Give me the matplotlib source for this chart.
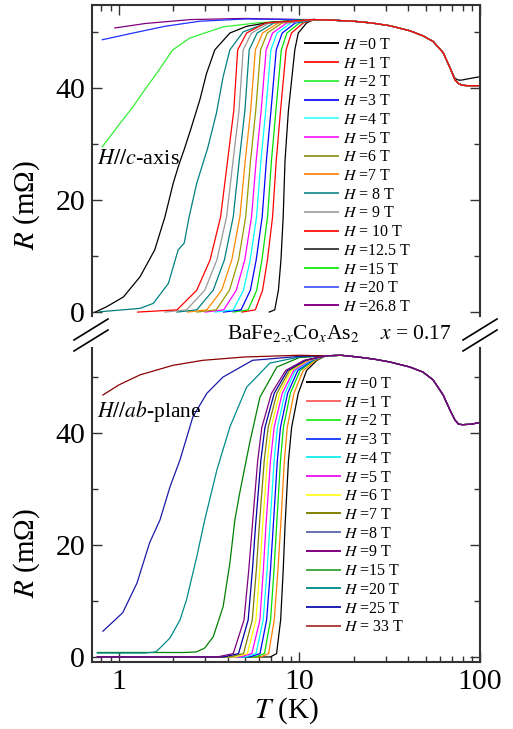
import numpy as np
import matplotlib
matplotlib.use("Agg")
import matplotlib.pyplot as plt
from matplotlib.lines import Line2D
from matplotlib.ticker import FixedLocator, FixedFormatter, LogLocator, NullFormatter, MultipleLocator

plt.rcParams['font.family'] = ['Liberation Serif', 'DejaVu Serif']
plt.rcParams['mathtext.fontset'] = 'stix'

# ---------------------------------------------------------------------------
# data (T in K, R in mOhm)
# ---------------------------------------------------------------------------

# H // c-axis : transition curves, T where each curve crosses these R values
top_R_levels = [0, 0.4, 3.9, 9.3, 17, 27, 36, 46.8, 49.8, 51.6]
top_T_0T = [6.8, 7.3, 7.65, 7.9, 8.13, 8.32, 8.69, 9.43, 9.85, 10.96]
top_T_1T = [4.8, 5.7, 6.25, 6.65, 7.10, 7.44, 7.86, 8.44, 9.03, 10.5]
top_T_2T = [4.3, 5.2, 5.8, 6.20, 6.66, 7.00, 7.41, 7.94, 8.53, 10.0]
top_T_3T = [3.8, 4.75, 5.35, 5.76, 6.22, 6.56, 6.96, 7.44, 8.03, 9.49]
top_T_4T = [3.4, 4.3, 4.9, 5.34, 5.79, 6.12, 6.51, 6.95, 7.52, 8.96]
top_T_5T = [3.0, 3.81, 4.47, 4.98, 5.43, 5.76, 6.14, 6.54, 7.10, 8.52]
top_T_6T = [2.7, 3.46, 4.10, 4.60, 5.04, 5.36, 5.73, 6.09, 6.64, 8.01]
top_T_7T = [2.4, 3.07, 3.71, 4.22, 4.68, 5.01, 5.37, 5.70, 6.25, 7.65]
top_T_8T = [2.1, 2.70, 3.33, 3.84, 4.30, 4.64, 4.99, 5.27, 5.83, 7.23]
top_T_9T = [1.8, 2.37, 2.99, 3.49, 3.95, 4.29, 4.63, 4.88, 5.43, 6.82]
top_T_10T = [1.27, 2.10, 2.70, 3.20, 3.66, 4.00, 4.33, 4.55, 5.10, 6.50]

top_T_11T = [0.78, 1.31, 1.55, 1.88, 2.13, 2.30, 2.45, 2.70, 3.10, 3.47, 3.78, 4.12, 4.88, 6.5, 10]
top_R_11T = [0.05, 0.66, 1.55, 5.1, 11.1, 12.3, 17, 23, 29.2, 35.5, 42, 46.8, 50, 51.5, 52.1]
top_T_12T = [0.74, 0.855, 1.06, 1.31, 1.58, 1.80, 2.0, 2.15, 2.3, 2.5, 2.81, 3.06, 3.4, 4.12, 5.1, 6.86, 10]
top_R_12T = [0, 0.95, 2.7, 6.3, 11.1, 17, 23, 26.3, 29, 32.6, 37.9, 42.6, 46.8, 49.8, 51, 51.7, 52.1]
top_T_15T = [0.81, 1.0, 1.195, 1.4, 1.62, 1.99, 2.47, 3.77, 5.8, 10]
top_R_15T = [29.5, 33.4, 36.6, 39.8, 42.6, 46.8, 48.9, 50.9, 51.6, 52.1]
top_T_20T = [0.81, 1.2, 1.8, 2.8, 5.0, 10]
top_R_20T = [48.6, 49.8, 51.0, 51.9, 52.3, 52.2]
top_T_27T = [0.95, 1.4, 2.5, 5.0, 10]
top_R_27T = [50.7, 51.5, 52.2, 52.4, 52.2]

top_tail_T = [12, 15, 20, 25, 31.7, 40.9, 48.3, 55, 62.5, 68.2, 72.8, 76, 79.2, 85, 100]
top_tail_R = [52.2, 52.1, 51.9, 51.6, 51.1, 50.2, 49.3, 48.3, 46.3, 43.6, 41.4, 40.8, 40.5, 40.4, 40.4]
top_tail_R_0T = [52.2, 52.1, 51.9, 51.6, 51.1, 50.2, 49.3, 48.3, 46.3, 43.6, 41.7, 41.4, 41.4, 41.6, 42.0]

top_labels = ['$H$ =0 T', '$H$ =1 T', '$H$ =2 T', '$H$ =3 T', '$H$ =4 T', '$H$ =5 T',
              '$H$ =6 T', '$H$ =7 T', '$H$ = 8 T', '$H$ = 9 T', '$H$ = 10 T',
              '$H$ =12.5 T', '$H$ =15 T', '$H$ =20 T', '$H$ =26.8 T']
top_legend_colors = ['#000000', '#ff2020', '#44ee44', '#2020ff', '#55ffff', '#ff33ff',
                     '#999933', '#ff9020', '#339999', '#aaaaaa', '#ff2020',
                     '#444444', '#22ee22', '#5566ff', '#880088']
top_curve_colors = ['#000000', '#ff0000', '#00e000', '#0000ff', '#00ffff', '#ff00ff',
                    '#999900', '#ff8800', '#008080', '#999999', '#ff0000']

# H // ab-plane
bot_R_levels = [0, 0, 0.6, 6.6, 15.5, 23.3, 35, 41, 47.1, 51.2, 53.0]
bot_T_0T = [0.76, 6.9, 7.47, 7.87, 8.13, 8.32, 8.69, 9.05, 9.85, 10.96, 12.5]
bot_T_1T = [0.76, 6.1, 6.75, 7.25, 7.60, 7.87, 8.25, 8.56, 9.32, 10.5, 12.3]
bot_T_2T = [0.76, 5.7, 6.4, 6.92, 7.23, 7.47, 7.85, 8.15, 8.90, 10.1, 12.0]
bot_T_3T = [0.76, 5.3, 6.05, 6.58, 6.91, 7.16, 7.54, 7.85, 8.60, 9.8, 11.8]
bot_T_4T = [0.76, 5.0, 5.75, 6.30, 6.62, 6.86, 7.24, 7.55, 8.31, 9.5, 11.6]
bot_T_5T = [0.76, 4.7, 5.45, 6.04, 6.31, 6.52, 6.91, 7.24, 8.03, 9.3, 11.4]
bot_T_6T = [0.76, 4.4, 5.15, 5.74, 6.03, 6.25, 6.64, 6.97, 7.77, 9.0, 11.2]
bot_T_7T = [0.76, 4.1, 4.9, 5.48, 5.77, 5.99, 6.38, 6.71, 7.50, 8.8, 11.0]
bot_T_8T = [0.76, 3.8, 4.6, 5.20, 5.49, 5.71, 6.11, 6.44, 7.25, 8.6, 10.8]
bot_T_9T = [0.76, 3.5, 4.3, 4.93, 5.24, 5.48, 5.87, 6.19, 7.00, 8.4, 10.6]

bot_T_15T = [0.76, 2.3, 2.69, 2.99, 3.33, 3.78, 4.12, 4.39, 4.67, 5.3, 6.04, 7.5, 10]
bot_R_15T = [0.8, 0.8, 0.9, 1.6, 3.6, 9.0, 16.8, 24.5, 29.3, 38.2, 46.4, 51.8, 53.5]
bot_T_20T = [0.76, 1.4, 1.6, 1.69, 1.92, 2.18, 2.37, 2.70, 2.99, 3.49, 4.12, 5.1, 6.86, 10]
bot_R_20T = [0.7, 0.7, 0.9, 1.6, 3.4, 6.6, 10.2, 17.9, 24.5, 33.4, 41.1, 48.2, 52.5, 53.6]
bot_T_25T = [0.816, 1.05, 1.26, 1.48, 1.69, 1.92, 2.18, 2.57, 3.07, 3.77, 5.5, 10]
bot_R_25T = [4.6, 7.9, 13.2, 20.4, 24.5, 30.4, 35.2, 42.9, 47.1, 50.0, 53.0, 53.7]
bot_T_33T = [0.816, 1.0, 1.31, 1.99, 2.92, 5.0, 10]
bot_R_33T = [46.8, 48.6, 50.4, 52.1, 53.0, 53.6, 53.9]

bot_tail_T = [14, 17, 21, 26, 31.7, 40.9, 48.3, 55, 62.5, 68.2, 72.8, 76, 80, 90, 100]
bot_tail_R = [53.8, 53.9, 53.6, 53.2, 52.7, 51.8, 50.9, 49.5, 46.8, 44.1, 42.3, 41.6, 41.5, 41.6, 41.9]

bot_labels = ['$H$ =0 T', '$H$ =1 T', '$H$ =2 T', '$H$ =3 T', '$H$ =4 T', '$H$ =5 T',
              '$H$ =6 T', '$H$ =7 T', '$H$ =8 T', '$H$ =9 T', '$H$ =15 T', '$H$ =20 T',
              '$H$ =25 T', '$H$ = 33 T']
bot_legend_colors = ['#000000', '#ff6666', '#33ee33', '#2244ff', '#22eeee', '#ee22ee',
                     '#ffff33', '#808000', '#6670b0', '#800080', '#44aa44', '#109090',
                     '#2020b0', '#b04040']
bot_curve_colors = ['#000000', '#ff8000', '#00dd00', '#0000ff', '#00ffff', '#ff00ff',
                    '#ffff00', '#808000', '#0000a0', '#800080', '#008000', '#008b8b',
                    '#1a1aaa', '#8b0000']

# ---------------------------------------------------------------------------

W, H = 513, 729
fig = plt.figure(figsize=(W / 100, H / 100), dpi=100)
ax1 = fig.add_axes([92 / W, 1 - 316 / H, 388 / W, 311 / H])
ax2 = fig.add_axes([92 / W, 1 - 662 / H, 388 / W, 314 / H])

LW = 0.9


def draw(ax, T, R, tail_T, tail_R, color, tmax=1000):
    T = np.asarray(T, float)
    R = np.asarray(R, float)
    tT = np.asarray(tail_T, float)
    tR = np.asarray(tail_R, float)
    keep = (tT > T[-1]) & (tT <= tmax)
    ax.plot(np.concatenate([T, tT[keep]]), np.concatenate([R, tR[keep]]),
            color=color, lw=LW)


# top panel
top_cluster = [top_T_0T, top_T_1T, top_T_2T, top_T_3T, top_T_4T, top_T_5T,
               top_T_6T, top_T_7T, top_T_8T, top_T_9T, top_T_10T]
draw(ax1, top_T_27T, top_R_27T, top_tail_T, top_tail_R, '#800080', 30)
draw(ax1, top_T_20T, top_R_20T, top_tail_T, top_tail_R, '#2030ff', 30)
draw(ax1, top_T_15T, top_R_15T, top_tail_T, top_tail_R, '#33ee33', 30)
draw(ax1, top_T_12T, top_R_12T, top_tail_T, top_tail_R, '#000000', 30)
draw(ax1, top_T_11T, top_R_11T, top_tail_T, top_tail_R, '#008080', 30)
for i, Ts in enumerate(top_cluster):
    tail = top_tail_R_0T if i == 0 else top_tail_R
    draw(ax1, Ts, top_R_levels, top_tail_T, tail, top_curve_colors[i])

# bottom panel
bot_cluster = [bot_T_0T, bot_T_1T, bot_T_2T, bot_T_3T, bot_T_4T, bot_T_5T,
               bot_T_6T, bot_T_7T, bot_T_8T, bot_T_9T]
bot_specials = [(bot_T_15T, bot_R_15T), (bot_T_20T, bot_R_20T),
                (bot_T_25T, bot_R_25T), (bot_T_33T, bot_R_33T)]
for k, (Ts, Rs) in enumerate(bot_specials):
    draw(ax2, Ts, Rs, bot_tail_T, bot_tail_R, bot_curve_colors[10 + k], 30)
for i, Ts in enumerate(bot_cluster):
    draw(ax2, Ts, bot_R_levels, bot_tail_T, bot_tail_R, bot_curve_colors[i])

# axes styling
for ax in (ax1, ax2):
    ax.set_xscale('log')
    ax.set_xlim(0.71, 100)
    ax.xaxis.set_major_locator(FixedLocator([1, 10, 100]))
    ax.xaxis.set_major_formatter(FixedFormatter(['1', '10', '100']))
    ax.xaxis.set_minor_locator(LogLocator(base=10, subs=np.arange(2, 10)))
    ax.xaxis.set_minor_formatter(NullFormatter())
    ax.yaxis.set_major_locator(FixedLocator([0, 20, 40]))
    ax.yaxis.set_major_formatter(FixedFormatter(['0', '20', '40']))
    ax.yaxis.set_minor_locator(MultipleLocator(10))
    ax.tick_params(which='both', direction='in', left=True, right=True,
                   labelsize=21.5, width=1.0, color='#333333')
    ax.tick_params(which='major', length=7, pad=5)
    ax.tick_params(which='minor', length=4)
    for s in ax.spines.values():
        s.set_linewidth(1.5)
        s.set_color('#333333')
    ax.set_ylabel('$R$ (mΩ)', fontsize=21)

ax1.set_ylim(-0.7, 54.8)
ax2.set_ylim(-0.9, 55.2)
ax1.spines['bottom'].set_visible(False)
ax2.spines['top'].set_visible(False)
ax1.tick_params(axis='x', which='both', bottom=False, top=True, labelbottom=False)
ax2.tick_params(axis='x', which='both', bottom=True, top=False)
ax1.yaxis.set_label_coords(-0.13, 0.357)
ax2.yaxis.set_label_coords(-0.13, 0.347)
ax2.set_xlabel('$T$ (K)', fontsize=21, labelpad=0)

for ax in (ax1, ax2):
    for lbl in ax.get_xticklabels() + ax.get_yticklabels():
        lbl.set_fontfamily(['Liberation Serif', 'DejaVu Serif'])

ax1.text(0.76, 27.3, '$H//c$-axis', fontsize=16, ha='left', va='center')
ax2.text(0.76, 43.8, '$H//ab$-plane', fontsize=15.5, ha='left', va='center')

fig.text(227 / W, 1 - 339 / H, r'BaFe$_{2\text{-}x}$Co$_x$As$_2$    $x$ = 0.17',
         fontsize=15.5, ha='left', va='baseline')

# legends
top_handles = [Line2D([], [], color=c, lw=1.4) for c in top_legend_colors]
ax1.legend(top_handles, top_labels, loc='upper left', bbox_to_anchor=(0.549, 0.897),
           frameon=False, fontsize=11.5, handlelength=2.05, handletextpad=0.3,
           labelspacing=0.17, borderpad=0, borderaxespad=0)
bot_handles = [Line2D([], [], color=c, lw=1.4) for c in bot_legend_colors]
ax2.legend(bot_handles, bot_labels, loc='upper left', bbox_to_anchor=(0.554, 0.911),
           frameon=False, fontsize=11.5, handlelength=2.05, handletextpad=0.3,
           labelspacing=0.17, borderpad=0, borderaxespad=0)

# axis break marks
for x0 in (74, 463):
    for dy in (0, 11):
        fig.add_artist(Line2D([x0 / W, (x0 + 34) / W],
                              [1 - (340 + dy) / H, 1 - (319 + dy) / H],
                              transform=fig.transFigure, color='k', lw=1.2))

fig.savefig('out.png', dpi=100)
